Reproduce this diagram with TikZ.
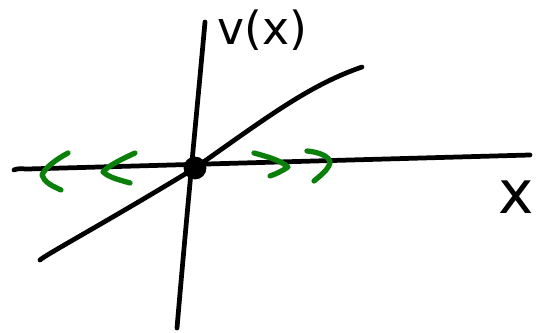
\documentclass[tikz,border=0pt]{standalone}
\usepackage{fontspec}
\setmainfont{DejaVu Sans}
\begin{document}
\begin{tikzpicture}[x=0.02cm,y=-0.02cm,
  pen/.style={line width=2.7pt,line cap=round,line join=round},
  greenpen/.style={pen,draw=arrowgreen,line width=3pt},
  lbl/.style={inner sep=0pt,font=\fontsize{26}{28}\selectfont}]
\definecolor{arrowgreen}{RGB}{10,128,10}
\useasboundingbox (0,0) rectangle (539,333);
% axes
\coordinate (xl) at (14,170);
\coordinate (xr) at (530,155);
\coordinate (yt) at (205,22);
\coordinate (yb) at (177,328);
\draw[pen] (xl) .. controls (18,168) and (22,169) .. (28,169) -- (xr);
\draw[pen] (yt) .. controls (198,100) and (188,200) .. (yb);
% curve
\coordinate (cs) at (40,260);
\coordinate (ce) at (362,67);
\coordinate (o) at (195,168);
\draw[pen] (cs) .. controls (45,255) and (110,220) .. (o)
  .. controls (270,115) and (310,85) .. (ce);
% origin dot
\node[circle,fill=black,minimum size=13pt,inner sep=0pt] (dot) at (o) {};
% green chevrons
\draw[greenpen] (68,153) .. controls (55,160) and (45,168) .. (42,175) .. controls (44,182) and (52,186) .. (61,190);
\draw[greenpen] (135,153) .. controls (120,160) and (108,166) .. (103,172) .. controls (110,178) and (120,180) .. (130,183);
\draw[greenpen] (254,153) .. controls (265,156) and (280,160) .. (288,167) .. controls (282,171) and (276,174) .. (270,176);
\draw[greenpen] (307,151) .. controls (318,152) and (330,156) .. (330,163) .. controls (328,170) and (320,176) .. (314,181);
% labels
\node[lbl,anchor=center] (vlabel) at (262,30) {v(x)};
\node[lbl,anchor=center,font=\fontsize{34}{36}\selectfont] (xlabel) at (516,197) {x};
\end{tikzpicture}
\end{document}
